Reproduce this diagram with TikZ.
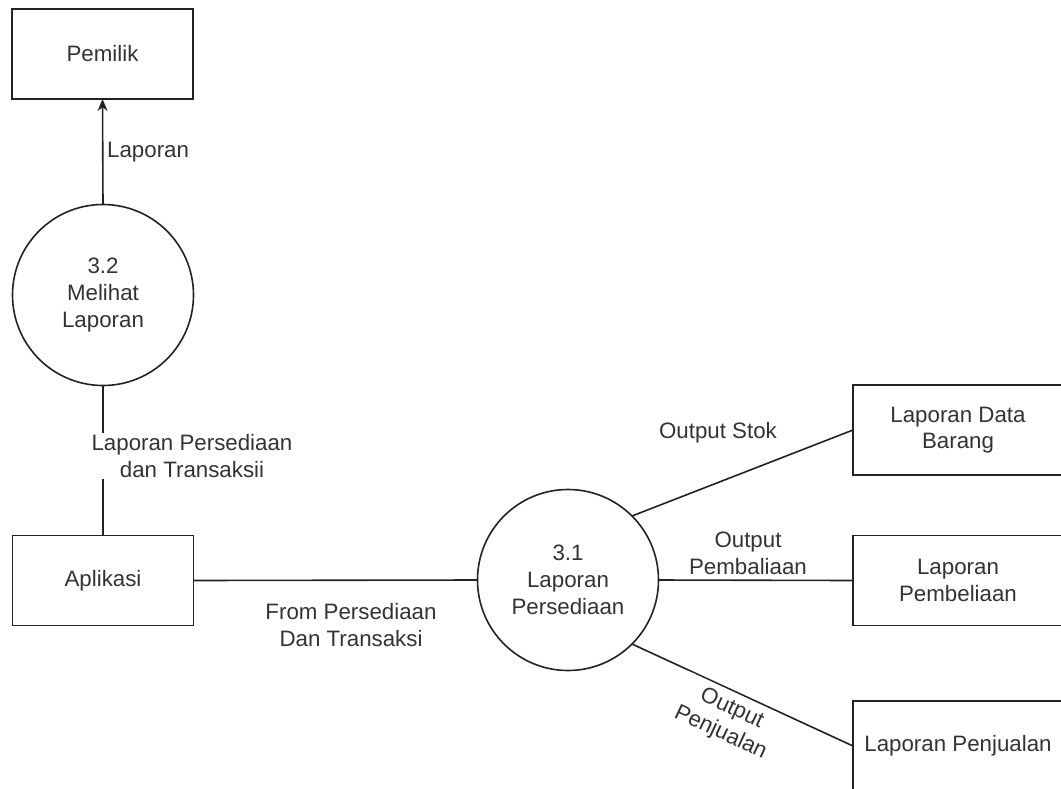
\documentclass[tikz,border=0pt]{standalone}
\usepackage{fontspec}
\setmainfont{Liberation Sans}
\usetikzlibrary{arrows.meta}
\definecolor{ink}{HTML}{222222}
\definecolor{txt}{HTML}{333333}
\tikzset{
  box/.style={draw=ink, line width=1.6pt, rectangle, minimum width=181pt, minimum height=90pt, inner sep=0pt, outer sep=0pt, align=center, text=txt},
  proc/.style={draw=ink, line width=1.6pt, circle, minimum size=181pt, inner sep=0pt, outer sep=0pt, align=center, text=txt},
  flow/.style={draw=ink, line width=1.6pt},
  lbl/.style={text=txt, align=center, inner sep=1pt}
}
\begin{document}
\begin{tikzpicture}[x=1pt,y=-1pt,font=\fontsize{22.3}{26.7}\selectfont]
\useasboundingbox[fill=white] (0,0) rectangle (1061,788);
% nodes
\node[box] (pemilik) at (102.5,54) {Pemilik};
\node[proc] (p32) at (103,295) {3.2\\Melihat\\Laporan};
\node[box] (aplikasi) at (103,580.5) {Aplikasi};
\node[proc] (p31) at (568,580) {3.1\\Laporan\\Persediaan};
\node[box, minimum width=210pt] (ldb) at (958,430) {Laporan Data\\Barang};
\node[box, minimum width=210pt] (lpb) at (958,580.5) {Laporan\\Pembeliaan};
\node[box, minimum width=210pt] (lpj) at (958,746) {Laporan Penjualan};
% connectors
\draw[flow, -{Stealth[length=12pt,width=10pt]}] (p32.north) -- (pemilik.south);
\draw[flow] (p32.south) -- (aplikasi.north);
\draw[flow] (aplikasi.east) -- (p31.west);
\draw[flow] (p31.45) -- (ldb.west);
\draw[flow] (p31.east) -- (lpb.west);
\draw[flow] (p31.-45) -- (lpj.west);
% labels
\node[lbl, anchor=west] (l1) at (106,152) {Laporan};
\node[lbl, fill=white] (l2) at (192,456) {Laporan Persediaan\\dan Transaksii};
\node[lbl] (l3) at (351,625) {From Persediaan\\Dan Transaksi};
\node[lbl] (l4) at (718,433) {Output Stok};
\node[lbl] (l5) at (748,553) {Output\\Pembaliaan};
\node[lbl, fill=white, inner sep=6pt, rotate=-25] (l6) at (726,721) {Output\\Penjualan};
\end{tikzpicture}
\end{document}
